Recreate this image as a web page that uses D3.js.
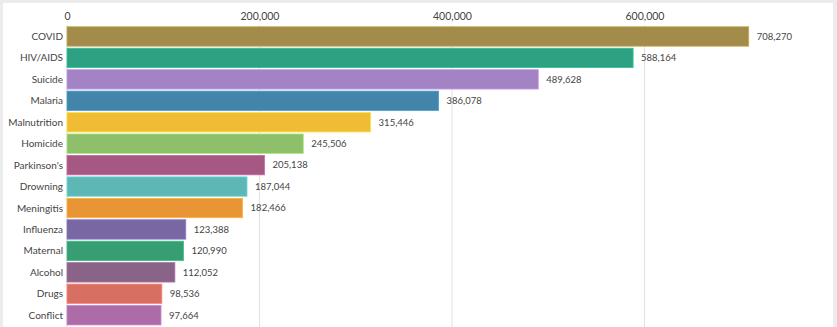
<!DOCTYPE html>
<html><head><meta charset="utf-8">
<script src="https://cdn.jsdelivr.net/npm/d3@7"></script>
<style>
html,body{margin:0;padding:0;background:#ececec;}
svg{display:block;}
text{font-family:Lato,"Noto Sans",sans-serif;}
</style></head>
<body>
<script>
const categories = ["COVID","HIV/AIDS","Suicide","Malaria","Malnutrition","Homicide","Parkinson's","Drowning","Meningitis","Influenza","Maternal","Alcohol","Drugs","Conflict"];
const values = [708270,588164,489628,386078,315446,245506,205138,187044,182466,123388,120990,112052,98536,97664];
const colors = ["#a08844","#279e7e","#a07fc1","#3d80a8","#f0b92e","#8abd65","#a35380","#58b5b3","#e8922f","#7562a1","#319a6e","#865e84","#d66b5d","#a967a5"];
const tickValues = [0,200000,400000,600000];

const W = 837, H = 327;
const svg = d3.select("body").append("svg").attr("width", W).attr("height", H);
svg.append("rect").attr("x",3).attr("y",3).attr("width",830).attr("height",H-3).attr("fill","#fff");

const x = d3.scaleLinear().domain([0,600000]).range([67,644.5]);
const y = d3.scaleBand().domain(categories).range([25.7, 25.7 + 21.45*14]).paddingInner(0.095).paddingOuter(0.05);

const fmt = d3.format(",");

// grid
const grid = svg.append("g");
grid.selectAll("line").data(tickValues).join("line")
  .attr("x1", d=>x(d)).attr("x2", d=>x(d))
  .attr("y1", 25).attr("y2", H)
  .attr("stroke", "#e2e2e2").attr("stroke-width", 1);

// axis
const axis = svg.append("g").attr("transform","translate(0,20)")
  .call(d3.axisTop(x).tickValues(tickValues).tickFormat(fmt).tickSize(0).tickPadding(0));
axis.select(".domain").remove();
axis.selectAll("text").attr("font-size", 10.5).attr("fill","#444").attr("font-family","Lato,'Noto Sans',sans-serif");

// bars
const data = categories.map((c,i)=>({c, v:values[i], col:colors[i]}));
svg.append("g").selectAll("rect").data(data).join("rect")
  .attr("x", x(0)).attr("y", d=>y(d.c))
  .attr("width", d=>x(d.v)-x(0)).attr("height", y.bandwidth())
  .attr("fill", d=>d.col).attr("fill-opacity",0.97)
  .attr("stroke", d=>d3.color(d.col).brighter(0.6)).attr("stroke-width",0.8);

// labels
svg.append("g").selectAll("text").data(data).join("text")
  .attr("x", 63).attr("y", d=>y(d.c)+y.bandwidth()/2)
  .attr("dy","0.35em").attr("text-anchor","end")
  .attr("font-size", 10).attr("fill","#444").text(d=>d.c);

svg.append("g").selectAll("text").data(data).join("text")
  .attr("x", d=>x(d.v)+8).attr("y", d=>y(d.c)+y.bandwidth()/2)
  .attr("dy","0.35em").attr("text-anchor","start")
  .attr("font-size", 9.5).attr("fill","#444").text(d=>fmt(d.v));
</script>
</body></html>
